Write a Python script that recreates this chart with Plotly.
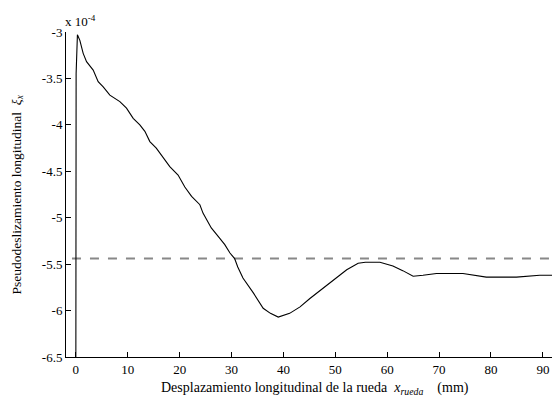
import plotly.graph_objects as go

# displacement (mm)
x_mm = [0.0, 0.05, 0.3, 0.77, 1.41, 2.06, 3.34, 4.3, 5.27, 6.55, 8.48, 9.76, 11.05, 12.33, 13.3,
        14.26, 15.5, 18.1, 19.7, 21.0, 22.3, 23.9, 24.5, 26.1, 27.7, 28.7, 29.7, 30.6, 31.2,
        32.2, 34.2, 36.1, 37.5, 39.0, 41.2, 43.2, 45.1, 47.6, 50.2, 52.2, 54.4, 55.8, 58.6,
        61.1, 63.0, 65.0, 66.9, 69.5, 74.6, 79.1, 84.9, 89.4, 93.0]
# pseudo-slip (x 1e-4)
slip = [-6.5, -3.45, -3.03, -3.09, -3.23, -3.32, -3.41, -3.535, -3.59, -3.68, -3.75, -3.82, -3.93,
        -4.0, -4.07, -4.18, -4.25, -4.45, -4.54, -4.67, -4.77, -4.86, -4.95, -5.11, -5.22, -5.29,
        -5.38, -5.44, -5.53, -5.65, -5.81, -5.975, -6.03, -6.07, -6.03, -5.96, -5.87, -5.76,
        -5.65, -5.56, -5.49, -5.48, -5.48, -5.52, -5.57, -5.63, -5.62, -5.60, -5.60, -5.64,
        -5.64, -5.62, -5.62]
ref_x = [-0.75, 93.3]
ref_level = -5.44

x_ticks = [0, 10, 20, 30, 40, 50, 60, 70, 80, 90]
y_ticks = [-3, -3.5, -4, -4.5, -5, -5.5, -6, -6.5]
y_tick_text = ["-3", "-3.5", "-4", "-4.5", "-5", "-5.5", "-6", "-6.5"]

font = "Liberation Serif"

fig = go.Figure()
fig.add_trace(go.Scatter(x=ref_x, y=[ref_level, ref_level], mode="lines",
                         line=dict(color="#888888", width=2, dash="dash"), hoverinfo="skip"))
fig.add_trace(go.Scatter(x=x_mm, y=slip, mode="lines",
                         line=dict(color="black", width=1.1)))

fig.update_layout(
    width=552, height=389,
    margin=dict(l=58, r=0, t=24, b=40),
    paper_bgcolor="white", plot_bgcolor="white",
    showlegend=False,
    font=dict(family=font, size=13, color="black"),
    xaxis=dict(range=[-1.9, 93.3], tickvals=x_ticks, ticks="inside", ticklen=5,
               showgrid=False, zeroline=False, showline=True, linecolor="black",
               linewidth=1, tickcolor="black", tickfont=dict(family=font, size=13)),
    yaxis=dict(range=[-6.5, -3], tickvals=y_ticks, ticktext=y_tick_text, ticks="inside",
               ticklen=5, showgrid=False, zeroline=False, showline=True, linecolor="black",
               linewidth=1, tickcolor="black", tickfont=dict(family=font, size=13)),
    annotations=[
        dict(text="x 10<sup>-4</sup>", x=0, y=1, xref="paper", yref="paper",
             xanchor="left", yanchor="bottom", xshift=-3, yshift=1, showarrow=False,
             font=dict(family=font, size=13)),
        dict(text="Desplazamiento longitudinal de la rueda  <i>x<sub>rueda</sub></i>    (mm)",
             x=0.5, y=0, xref="paper", yref="paper", xanchor="center", yanchor="middle",
             xshift=2, yshift=-31, showarrow=False, font=dict(family=font, size=14)),
        dict(text="Pseudodeslizamiento longitudinal  <i>ξ<sub>x</sub></i>",
             x=0, y=0.5, xref="paper", yref="paper", xanchor="center", yanchor="middle",
             xshift=-49, textangle=-90, showarrow=False, font=dict(family=font, size=13.5)),
    ],
)

fig.write_html("out.html")
